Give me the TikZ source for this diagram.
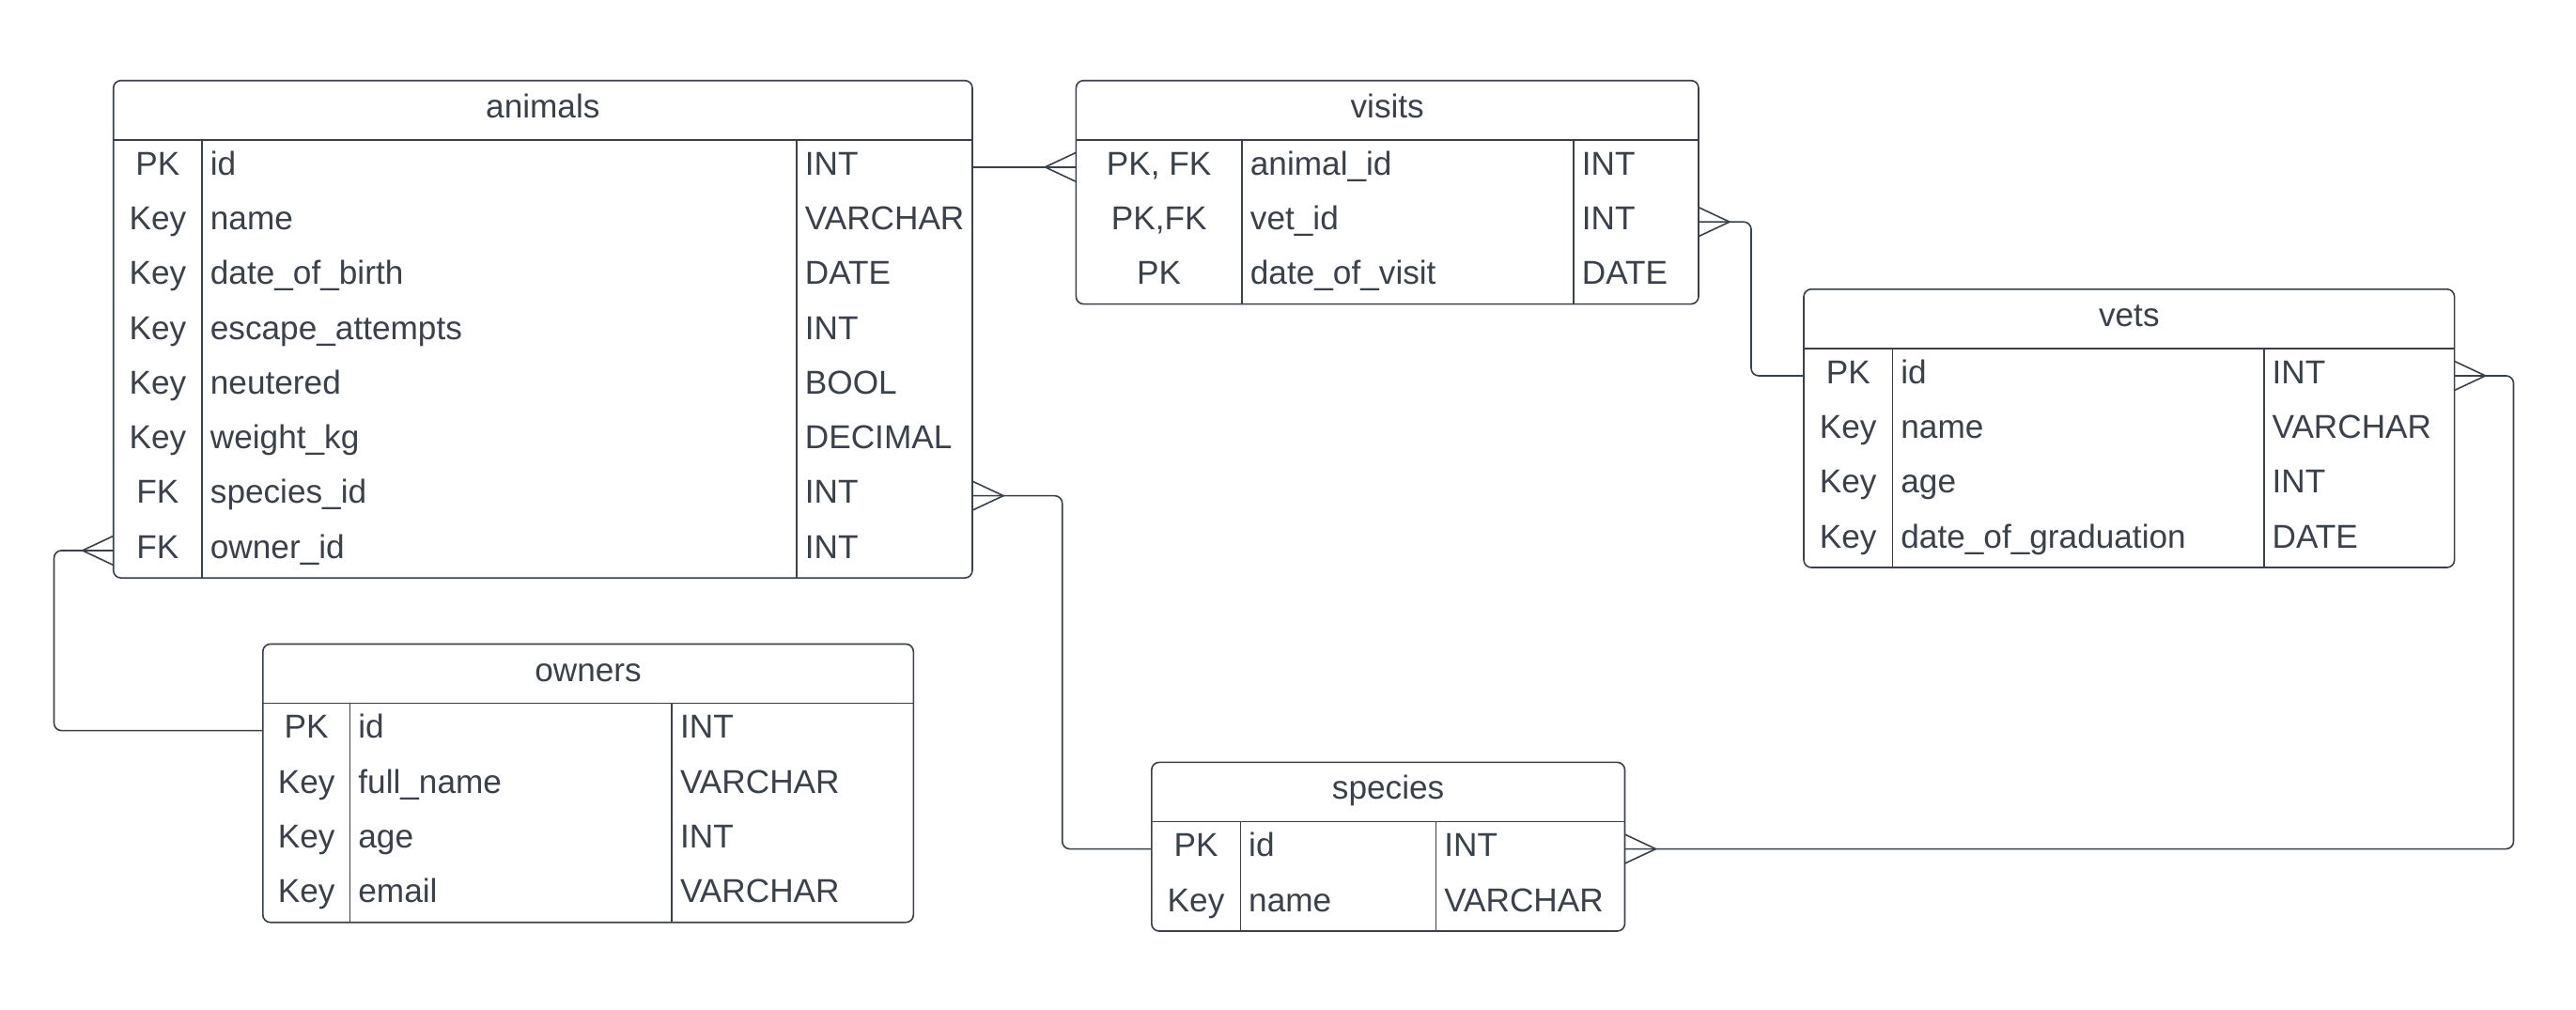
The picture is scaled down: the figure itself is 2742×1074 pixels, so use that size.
\documentclass[tikz,border=0pt]{standalone}
\usepackage{fontspec}
\usetikzlibrary{calc}
\newfontfamily\erfam{Liberation Sans}
\definecolor{ink}{RGB}{58,65,74}
\newcommand\erfont{\erfam\fontsize{35.2}{40}\selectfont}
\newcommand\pkfka{PK, FK}
\newcommand\pkfkb{PK,FK}
\tikzset{
  erline/.style={draw=ink, line width=1.6pt},
  tbl/.style={erline, rounded corners=8pt, rectangle, inner sep=0pt, outer sep=0pt, anchor=north west},
  lbl/.style={text=ink, inner sep=0pt, anchor=base, font=\erfont},
  lbll/.style={lbl, anchor=base west},
  conn/.style={erline, rounded corners=8pt},
}
% #1 name, #2 xl, #3 yt, #4 xr, #5 col1, #6 col2, #7 nrows, #8 title, #9 rows
\newcommand\ertable[9]{%
  \pgfmathsetmacro\erW{#4-#2}%
  \pgfmathsetmacro\erH{63+#7*58.3}%
  \node[tbl, minimum width=\erW pt, minimum height=\erH pt] (#1) at (#2,#3) {};
  \draw[erline] ([yshift=-63pt]#1.north west) -- ([yshift=-63pt]#1.north east);
  \draw[erline] (#5,{#3+63}) -- (#5,{#3+\erH});
  \draw[erline] (#6,{#3+63}) -- (#6,{#3+\erH});
  \node[lbl] (#1-title) at ([yshift=-39.5pt]#1.north) {#8};
  \foreach \k/\n/\t [count=\i] in {#9} {
    \pgfmathsetmacro\ry{#3+63+(\i-0.5)*58.3}
    \coordinate (#1-\i-l) at (#2,\ry);
    \coordinate (#1-\i-r) at (#4,\ry);
    \node[lbl] (#1-\i-k) at ({(#2+#5)/2},{\ry+8.3}) {\k};
    \node[lbll] (#1-\i-n) at ({#5+8.7},{\ry+8.3}) {\n};
    \node[lbll] (#1-\i-t) at ({#6+8.7},{\ry+8.3}) {\t};
  }
}
% crow's foot at edge point #1, direction #2 (+1 right, -1 left)
\newcommand\crow[2]{%
  \draw[erline] ($(#1)+(0,-15.5)$) -- ($(#1)+({33*#2},0)$) -- ($(#1)+(0,15.5)$);
}
\begin{document}
\begin{tikzpicture}[x=1pt,y=-1pt]
\fill[white] (0,0) rectangle (2742,1074);
\useasboundingbox (0,0) rectangle (2742,1074);

\ertable{animals}{120.7}{85.7}{1035}{215}{848}{8}{animals}{%
  PK/id/INT, Key/name/VARCHAR, Key/date\_of\_birth/DATE,
  Key/escape\_attempts/INT, Key/neutered/BOOL, Key/weight\_kg/DECIMAL,
  FK/species\_id/INT, FK/owner\_id/INT}
\ertable{visits}{1145.4}{85.7}{1808}{1322}{1675}{3}{visits}{%
  \pkfka/animal\_id/INT, \pkfkb/vet\_id/INT, PK/date\_of\_visit/DATE}
\ertable{vets}{1920}{307.8}{2612.6}{2014.5}{2409.7}{4}{vets}{%
  PK/id/INT, Key/name/VARCHAR, Key/age/INT, Key/date\_of\_graduation/DATE}
\ertable{owners}{279.8}{685.5}{972.3}{372.5}{715.2}{4}{owners}{%
  PK/id/INT, Key/full\_name/VARCHAR, Key/age/INT, Key/email/VARCHAR}
\ertable{species}{1225.8}{811.4}{1729.5}{1320.3}{1528.4}{2}{species}{%
  PK/id/INT, Key/name/VARCHAR}

\coordinate (j2) at (1864,0);
\coordinate (j3) at (2675.5,0);
\coordinate (j4) at (1130.7,0);
\coordinate (j5) at (57.5,0);

\draw[conn] (animals-1-r) -- (visits-1-l);
\crow{visits-1-l}{-1}
\draw[conn] (visits-2-r) -| (j2 |- vets-1-l) -- (vets-1-l);
\crow{visits-2-r}{1}
\draw[conn] (vets-1-r) -| (j3 |- species-1-r) -- (species-1-r);
\crow{vets-1-r}{1}
\crow{species-1-r}{1}
\draw[conn] (animals-7-r) -| (j4 |- species-1-l) -- (species-1-l);
\crow{animals-7-r}{1}
\draw[conn] (animals-8-l) -| (j5 |- owners-1-l) -- (owners-1-l);
\crow{animals-8-l}{-1}
\end{tikzpicture}
\end{document}
